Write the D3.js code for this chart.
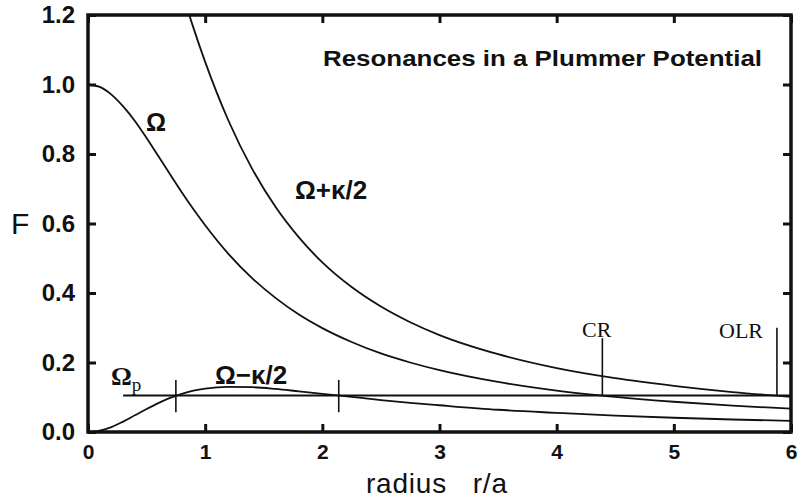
<!DOCTYPE html>
<meta charset="utf-8">
<style>
body { margin: 0; background: #fff; }
svg { display: block; }
.tick text { font-family: "Liberation Sans", Arial, sans-serif; font-weight: bold; fill: #111; }
.curve { fill: none; stroke: #111; stroke-width: 1.8px; }
.lbl { font-family: "Liberation Sans", Arial, sans-serif; font-weight: bold; fill: #111; }
.serif { font-family: "Liberation Serif", "Times New Roman", serif; fill: #111; }
</style>
<svg></svg>
<script src="https://cdn.jsdelivr.net/npm/d3@7"></script>
<script>

// radius r/a sample points, and curve values
var radius   = [0, 0.1, 0.2, 0.3, 0.4, 0.5, 0.6, 0.7, 0.8, 0.9, 1.0, 1.2, 1.4, 1.6, 1.8, 2.0, 2.25, 2.5, 2.75, 3.0, 3.5, 4.0, 4.5, 5.0, 5.5, 6.0]
var omega    = [1.000, 0.993, 0.971, 0.937, 0.895, 0.846, 0.794, 0.742, 0.690, 0.641, 0.595, 0.512, 0.443, 0.386, 0.338, 0.299, 0.259, 0.226, 0.200, 0.178, 0.144, 0.119, 0.101, 0.087, 0.076, 0.067]
var omegaPlus  = [2.000, 1.981, 1.928, 1.845, 1.742, 1.626, 1.505, 1.385, 1.270, 1.163, 1.065, 0.895, 0.758, 0.648, 0.560, 0.488, 0.417, 0.361, 0.316, 0.279, 0.224, 0.184, 0.155, 0.133, 0.115, 0.101]
var omegaMinus = [0.000, 0.004, 0.014, 0.030, 0.048, 0.066, 0.083, 0.098, 0.110, 0.119, 0.125, 0.130, 0.129, 0.124, 0.117, 0.110, 0.101, 0.092, 0.084, 0.077, 0.064, 0.055, 0.047, 0.041, 0.036, 0.032]

var omegaP = 0.105
var omegaPStart = 0.3

// resonance markers: [r, low, high]
var markers = [[0.75, 0.057, 0.150], [2.14, 0.057, 0.150], [4.39, 0.105, 0.270], [5.88, 0.105, 0.300]]

var xTicks = [0, 1, 2, 3, 4, 5, 6]
var yTicks = [0, 0.2, 0.4, 0.6, 0.8, 1.0, 1.2]

var width = 800, height = 501
var pL = 88, pR = 791, pT = 15, pB = 432

var svg = d3.select('svg').attr('width', width).attr('height', height)

var x = d3.scaleLinear().domain([0, 6]).range([pL, pR])
var y = d3.scaleLinear().domain([0, 1.2]).range([pB, pT])

svg.append('defs').append('clipPath')
    .attr('id', 'clip')
    .append('rect')
    .attr('x', pL).attr('y', pT)
    .attr('width', pR - pL).attr('height', pB - pT)

var plot = svg.append('g').attr('clip-path', 'url(#clip)')

var line = d3.line()
    .x(d => x(d[0]))
    .y(d => y(d[1]))
    .curve(d3.curveMonotoneX)

;[omega, omegaPlus, omegaMinus].forEach(function (vals) {
    plot.append('path')
        .attr('class', 'curve')
        .attr('d', line(radius.map((r, i) => [r, vals[i]])))
})

// pattern speed
plot.append('path')
    .attr('class', 'curve')
    .attr('d', d3.line()([[x(omegaPStart), y(omegaP)], [x(6), y(omegaP)]]))

svg.selectAll('.marker')
    .data(markers)
    .enter()
    .append('line')
    .attr('class', 'marker')
    .attr('x1', d => x(d[0])).attr('x2', d => x(d[0]))
    .attr('y1', d => y(d[1])).attr('y2', d => y(d[2]))
    .attr('stroke', '#111').attr('stroke-width', 1.6)

// axes, ticks pointing inward
var ax = svg.append('g')
    .attr('transform', 'translate(0,' + pB + ')')
    .call(d3.axisBottom(x).tickValues(xTicks).tickFormat(d3.format('d')).tickSizeInner(-8).tickSizeOuter(0).tickPadding(12))
var ay = svg.append('g')
    .attr('transform', 'translate(' + pL + ',0)')
    .call(d3.axisLeft(y).tickValues(yTicks).tickFormat(d3.format('.1f')).tickSizeInner(-8).tickSizeOuter(0).tickPadding(13))
var axTop = svg.append('g')
    .attr('transform', 'translate(0,' + pT + ')')
    .call(d3.axisTop(x).tickValues(xTicks).tickFormat('').tickSizeInner(-8).tickSizeOuter(0))
var ayRight = svg.append('g')
    .attr('transform', 'translate(' + pR + ',0)')
    .call(d3.axisRight(y).tickValues(yTicks).tickFormat('').tickSizeInner(-8).tickSizeOuter(0))

;[ax, ay, axTop, ayRight].forEach(function (g) {
    g.select('.domain').remove()
    g.selectAll('.tick line').attr('stroke', '#111').attr('stroke-width', 3)
})
ax.selectAll('.tick text').style('font-size', '21px')
ay.selectAll('.tick text').style('font-size', '24px')

svg.append('rect')
    .attr('x', pL).attr('y', pT)
    .attr('width', pR - pL).attr('height', pB - pT)
    .attr('fill', 'none').attr('stroke', '#111').attr('stroke-width', 3.5)

// titles and labels
svg.append('text').attr('class', 'lbl')
    .attr('x', 323).attr('y', 66)
    .attr('textLength', 439).attr('lengthAdjust', 'spacingAndGlyphs')
    .style('font-size', '22px')
    .text('Resonances in a Plummer Potential')

svg.append('text')
    .attr('x', 11).attr('y', 234)
    .style('font-family', '"Liberation Sans", Arial, sans-serif')
    .style('font-size', '30px').attr('fill', '#111')
    .text('F')

svg.append('text')
    .attr('x', 366).attr('y', 493)
    .style('font-family', '"Liberation Sans", Arial, sans-serif')
    .style('font-size', '28px').attr('fill', '#111')
    .attr('xml:space', 'preserve')
    .attr('textLength', 141)
    .text('radius   r/a')

svg.append('text').attr('class', 'lbl')
    .attr('x', 146).attr('y', 131).style('font-size', '25px')
    .text('Ω')
svg.append('text').attr('class', 'lbl')
    .attr('x', 295).attr('y', 199).style('font-size', '26px')
    .text('Ω+κ/2')
svg.append('text').attr('class', 'lbl')
    .attr('x', 215).attr('y', 384).style('font-size', '26px')
    .text('Ω−κ/2')

var op = svg.append('text').attr('class', 'serif')
    .attr('x', 111).attr('y', 385).style('font-size', '26px').style('font-weight', 'bold')
op.append('tspan').text('Ω')
op.append('tspan').attr('dy', 6).style('font-size', '19px').style('font-weight', 'normal').text('p')

svg.append('text').attr('class', 'serif')
    .attr('x', 582).attr('y', 337).style('font-size', '22px')
    .text('CR')
svg.append('text').attr('class', 'serif')
    .attr('x', 719).attr('y', 338).style('font-size', '22px')
    .text('OLR')

</script>
